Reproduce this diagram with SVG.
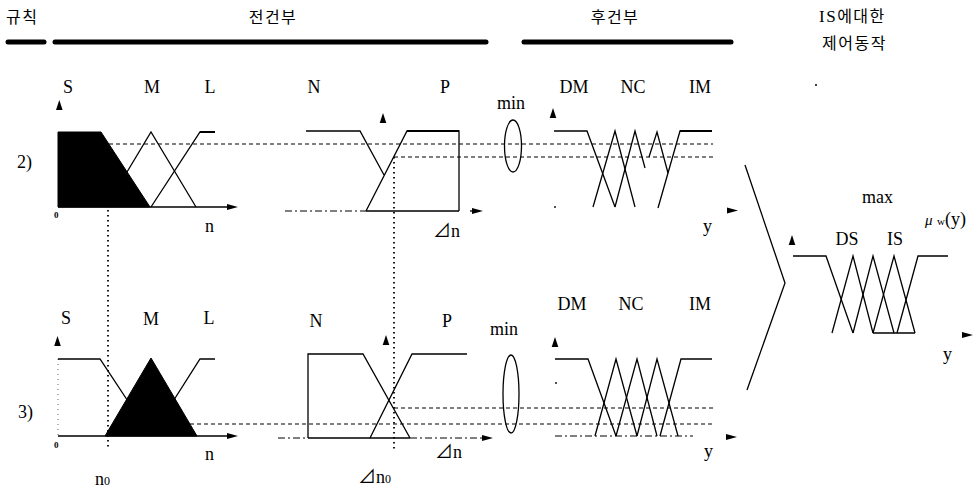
<svg xmlns="http://www.w3.org/2000/svg" width="980" height="489" viewBox="0 0 980 489">
<style>
.ln{stroke:#000;stroke-width:1.3;fill:none;stroke-linejoin:miter}
.tk{stroke:#000;stroke-width:2;fill:none}
.fill{fill:#000;stroke:#000;stroke-width:1}
.dash{stroke:#000;stroke-width:1.1;stroke-dasharray:4 3;fill:none}
.dot{stroke:#000;stroke-width:1.8;stroke-dasharray:1.5 3.5;fill:none}
.faint{stroke:#000;stroke-width:1;stroke-dasharray:1 4;fill:none;opacity:.6}
.dd{stroke:#000;stroke-width:1.2;stroke-dasharray:7 3 2 3;fill:none}
.bar{stroke:#000;stroke-width:5;stroke-linecap:round}
.t{font-family:"Liberation Serif","Noto Sans CJK KR",serif;font-size:18px;fill:#000}
.tm{text-anchor:middle}
.kr{font-family:"Noto Sans CJK KR",sans-serif;font-size:16px;fill:#000;letter-spacing:1.5px}
.z{font-family:"Liberation Serif",serif;font-size:9px;font-weight:bold;fill:#000}
</style>
<defs>
<path id="up" d="M0,0 L3.3,10 L-3.3,10 Z" fill="#000"/>
<path id="rt" d="M0,0 L-11,-3 L-11,3 Z" fill="#000"/>
</defs>

<g id="header">
<text class="kr" x="6" y="23">규칙</text>
<text class="kr tm" x="273" y="23">전건부</text>
<text class="kr tm" x="615" y="23">후건부</text>
<text class="kr" x="819" y="22"><tspan font-family="Liberation Serif" font-size="17">IS</tspan>에대한</text>
<text class="kr" x="822" y="49">제어동작</text>
<line class="bar" x1="8" y1="42" x2="44" y2="42"/>
<line class="bar" x1="55" y1="42" x2="486" y2="42"/>
<line class="bar" x1="524" y1="42" x2="731" y2="42"/>
<circle cx="816" cy="85" r="1" fill="#000"/>
</g>

<g id="rule2-n">
<text class="t" x="17" y="168" font-size="20">2)</text>
<text class="t tm" x="68" y="93">S</text>
<text class="t tm" x="152" y="93">M</text>
<text class="t tm" x="210" y="93">L</text>
<use href="#up" x="59.3" y="100"/>
<polygon class="fill" points="58,132 101,132 150,207 58,207"/>
<polyline class="ln" points="106,207 151,132 196,207"/>
<polyline class="ln" points="151,207 200,132 215,132"/>
<line class="tk" x1="200" y1="132" x2="215" y2="132"/>
<line class="ln" x1="58" y1="207" x2="230" y2="207"/>
<use href="#rt" x="238" y="207"/>
<text class="z" x="54" y="218">0</text>
<text class="t" x="205" y="232">n</text>
</g>

<g id="rule2-dn">
<text class="t tm" x="314" y="93">N</text>
<text class="t tm" x="445" y="93">P</text>
<use href="#up" x="383" y="113"/>
<polyline class="ln" points="306,131 360,131 384,175"/>
<polyline class="ln" points="366,211 407,131 459,131 459,211"/>
<line class="tk" x1="407" y1="131" x2="459" y2="131"/>
<line class="dd" x1="285" y1="211" x2="366" y2="211"/>
<line class="ln" x1="366" y1="211" x2="459" y2="211"/>
<line class="ln" x1="470" y1="211" x2="476" y2="211"/>
<use href="#rt" x="483" y="211"/>
<text class="t" x="433" y="237">⊿n</text>
</g>

<g id="rule2-min">
<text class="t" x="497" y="109">min</text>
<ellipse class="ln" cx="513" cy="146" rx="8.5" ry="26"/>
</g>

<g id="rule2-y">
<text class="t tm" x="574" y="93">DM</text>
<text class="t tm" x="633" y="93">NC</text>
<text class="t tm" x="700" y="93">IM</text>
<use href="#up" x="553" y="108"/>
<polyline class="ln" points="554,131 587,131 615,207"/>
<polyline class="ln" points="593,207 615,131 635,207"/>
<polyline class="ln" points="615,207 635,131 645,168"/>
<polyline class="ln" points="649,157 657,132 668,173"/>
<polyline class="ln" points="658,208 680,131 712,131"/>
<line class="tk" x1="680" y1="131" x2="712" y2="131"/>
<circle cx="555" cy="207" r="0.9" fill="#000"/>
<use href="#rt" x="738" y="210.5"/>
<text class="t" x="703" y="232">y</text>
</g>

<g id="rule3-n">
<text class="t" x="18" y="418" font-size="20">3)</text>
<text class="t tm" x="66" y="324">S</text>
<text class="t tm" x="151" y="325">M</text>
<text class="t tm" x="209" y="324">L</text>
<use href="#up" x="57.5" y="336"/>
<line class="faint" x1="58" y1="359" x2="58" y2="436"/>
<polyline class="ln" points="58,359 100,359 151,436"/>
<polyline class="ln" points="151,436 200,359 215,359"/>
<polygon class="fill" points="105,436 151,358 197,436"/>
<line class="ln" x1="58" y1="436" x2="230" y2="436"/>
<use href="#rt" x="238" y="436"/>
<text class="z" x="54" y="448">0</text>
<text class="t" x="205" y="460">n</text>
<text class="t" x="95" y="485">n<tspan font-size="12">0</tspan></text>
</g>

<g id="rule3-dn">
<text class="t tm" x="316" y="327">N</text>
<text class="t tm" x="447" y="327">P</text>
<use href="#up" x="386" y="335"/>
<polyline class="ln" points="308,438 308,354 363,354 410,438"/>
<polyline class="ln" points="370,438 412,354 467,354"/>
<line class="dd" x1="278" y1="438" x2="308" y2="438"/>
<line class="ln" x1="308" y1="438" x2="410" y2="438"/>
<line class="dd" x1="410" y1="438" x2="484" y2="438"/>
<use href="#rt" x="493" y="438"/>
<text class="t" x="435" y="458">⊿n</text>
<text class="t" x="358" y="483">⊿n<tspan font-size="12">0</tspan></text>
</g>

<g id="rule3-min">
<text class="t" x="490" y="335">min</text>
<ellipse class="ln" cx="511" cy="394" rx="8" ry="39"/>
</g>

<g id="rule3-y">
<text class="t tm" x="572" y="310">DM</text>
<text class="t tm" x="631" y="310">NC</text>
<text class="t tm" x="700" y="310">IM</text>
<use href="#up" x="555" y="337"/>
<polyline class="ln" points="555,359 588,359 616,436"/>
<polyline class="ln" points="595,436 616,359 637,436"/>
<polyline class="ln" points="616,436 637,359 657,436"/>
<polyline class="ln" points="637,436 657,359 678,436"/>
<polyline class="ln" points="660,436 681,359 712,359"/>
<line class="dd" x1="555" y1="436" x2="693" y2="436"/>
<circle cx="556" cy="383" r="0.9" fill="#000"/>
<use href="#rt" x="737" y="437"/>
<text class="t" x="704" y="457">y</text>
</g>

<g id="max-output">
<text class="t" x="862" y="203">max</text>
<text class="t" x="925" y="225"><tspan font-style="italic" font-size="15">μ</tspan> <tspan font-size="11">w</tspan>(y)</text>
<text class="t tm" x="847" y="245">DS</text>
<text class="t tm" x="895" y="245">IS</text>
<use href="#up" x="792" y="235"/>
<polyline class="ln" points="793,256 826,256 853,333"/>
<polyline class="ln" points="832,333 853,256 873,333"/>
<polyline class="ln" points="853,333 873,256 894,333"/>
<polyline class="ln" points="873,333 894,256 915,333"/>
<polyline class="ln" points="897,333 918,256 948,256"/>
<line class="ln" x1="873" y1="333" x2="915" y2="333"/>
<use href="#rt" x="973" y="335"/>
<text class="t" x="943" y="360">y</text>
</g>

<g id="connectors">
<line class="dash" x1="109" y1="144" x2="713" y2="144"/>
<line class="dash" x1="394" y1="157" x2="713" y2="157"/>
<line class="dot" x1="394" y1="157" x2="394" y2="450"/>
<line class="dot" x1="108" y1="210" x2="108" y2="447"/>
<line class="dash" x1="394" y1="408" x2="713" y2="408"/>
<line class="dash" x1="190" y1="424" x2="713" y2="424"/>
<polyline class="ln" points="745,165 785,283 747,390"/>
</g>
</svg>
